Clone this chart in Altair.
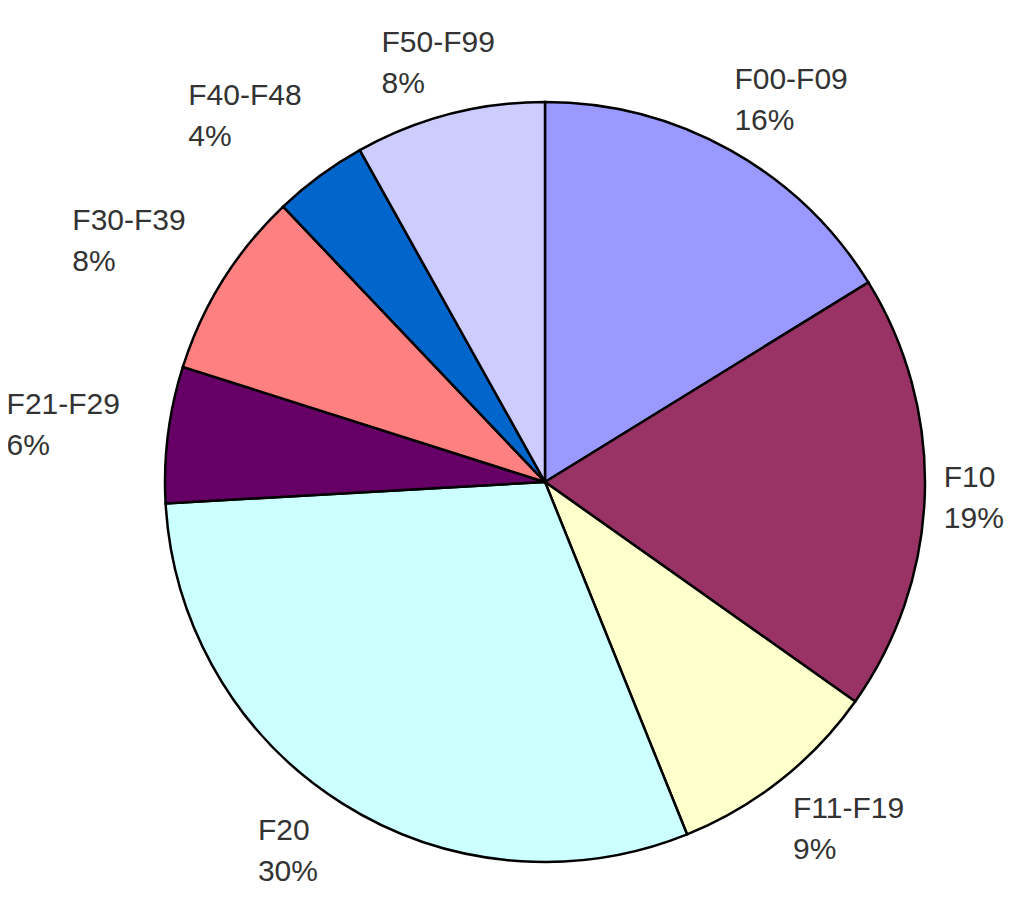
import altair as alt
import pandas as pd

categories = ["F00-F09", "F10", "F11-F19", "F20", "F21-F29", "F30-F39", "F40-F48", "F50-F99"]
values = [16.2, 18.6, 9.1, 30.2, 5.8, 8.0, 4.0, 8.1]
pct_labels = ["16%", "19%", "9%", "30%", "6%", "8%", "4%", "8%"]
colors = ["#9999FF", "#993366", "#FFFFCC", "#CCFFFF", "#660066", "#FF8080", "#0066CC", "#CCCCFF"]

df = pd.DataFrame({
    "cat": categories,
    "value": values,
    "pct": pct_labels,
    "idx": list(range(len(categories))),
})
df["label"] = df["cat"] + "\n" + df["pct"]

CX, CY = 537, 474
theta_scale = alt.Scale(domain=[0, 100])

base = alt.Chart(df)

pie = base.mark_arc(outerRadius=380, stroke="black", strokeWidth=2.5, x=CX, y=CY).encode(
    theta=alt.Theta("value:Q", stack=True, scale=theta_scale),
    color=alt.Color("cat:N", scale=alt.Scale(domain=categories, range=colors), legend=None),
    order=alt.Order("idx:Q"),
)

lab = base.transform_window(
    cum="sum(value)", sort=[alt.SortField("idx")], frame=[None, 0]
).transform_calculate(
    mid="datum.cum - datum.value / 2"
)

common = dict(align="left", baseline="middle", font="Liberation Sans", fontSize=30,
              color="#333333", lineBreak="\n", lineHeight=41, x=CX, y=CY)

def th():
    return alt.Theta("mid:Q", scale=theta_scale)

text_right_tb = lab.transform_filter("datum.mid < 50 && abs(datum.mid - 25) > 10").mark_text(
    radius=440, dx=-25, dy=-18, **common).encode(theta=th(), text="label:N")
text_right_side = lab.transform_filter("abs(datum.mid - 25) <= 10").mark_text(
    radius=440, dx=-41, dy=-18, **common).encode(theta=th(), text="label:N")
text_left_side = lab.transform_filter("datum.mid >= 65 && datum.mid < 90").mark_text(
    radius=455, dx=-87, dy=-20, **common).encode(theta=th(), text="label:N")
text_left_tb = lab.transform_filter("(datum.mid >= 50 && datum.mid < 65) || datum.mid >= 90").mark_text(
    radius=435, dx=-54, dy=-18, **common).encode(theta=th(), text="label:N")

chart = alt.layer(pie, text_right_tb, text_right_side, text_left_side, text_left_tb).properties(
    width=1002, height=881, autosize=alt.AutoSizeParams(type="none"), padding=0
).configure_view(stroke=None).configure(background="white")

chart.save("out.html", embed_options={"renderer": "svg", "actions": False})
